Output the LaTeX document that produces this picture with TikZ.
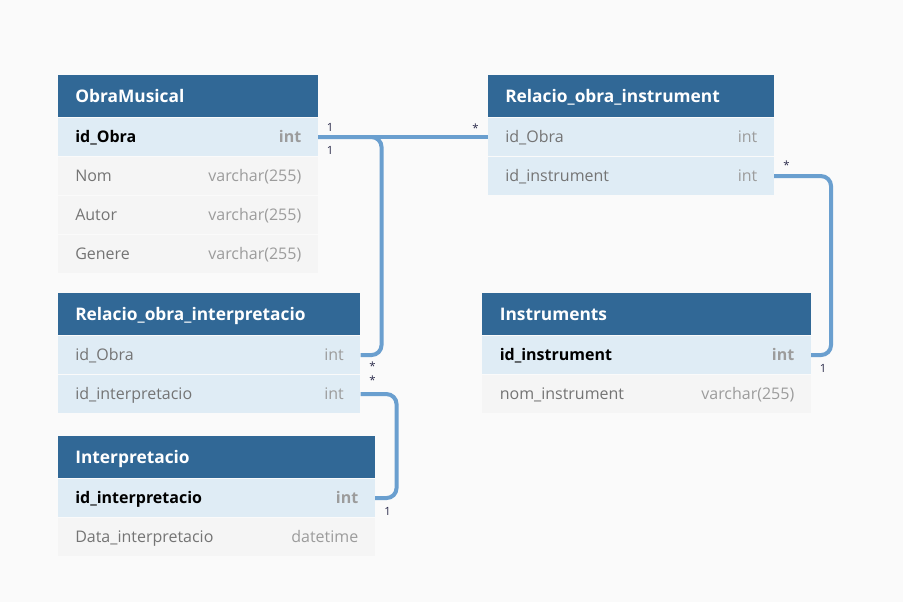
\documentclass[tikz,border=0pt]{standalone}
\usepackage{fontspec}
\setmainfont{Open Sans}
\usetikzlibrary{positioning}
\definecolor{hdrblue}{HTML}{316896}
\definecolor{rowblue}{HTML}{DFECF5}
\definecolor{rowgrey}{HTML}{F5F5F5}
\definecolor{bggrey}{HTML}{FAFAFA}
\definecolor{linkblue}{HTML}{6A9FCF}
\definecolor{txtgrey}{HTML}{747474}
\definecolor{typgrey}{HTML}{9C9C9C}
\definecolor{cardcol}{HTML}{2A2A4A}

\begin{document}
\begin{tikzpicture}[x=0.75pt,y=-0.75pt,
  tblhead/.style={anchor=north west,fill=hdrblue,minimum width=#1*0.75pt,minimum height=42*0.75pt,inner sep=0pt},
  tblrow/.style={minimum width=#1*0.75pt,minimum height=38.5*0.75pt,inner sep=0pt},
  hdrtxt/.style={anchor=base west,shift={(17.5,6.3)},inner sep=0pt,text=white,font=\bfseries\fontsize{13}{15}\selectfont},
  key/.style={fill=rowblue},
  lnk/.style={fill=rowblue},
  fld/.style={fill=rowgrey},
  key-n/.style={anchor=base west,shift={(17.5,5.8)},inner sep=0pt,text=black,font=\bfseries\fontsize{12}{14}\selectfont},
  lnk-n/.style={anchor=base west,shift={(17.5,5.8)},inner sep=0pt,text=txtgrey,font=\fontsize{12}{14}\selectfont},
  fld-n/.style={lnk-n},
  key-t/.style={anchor=base east,shift={(-16.5,5.8)},inner sep=0pt,text=typgrey,font=\bfseries\fontsize{12}{14}\selectfont},
  lnk-t/.style={anchor=base east,shift={(-16.5,5.8)},inner sep=0pt,text=typgrey,font=\fontsize{12}{14}\selectfont},
  fld-t/.style={lnk-t},
  conn/.style={draw=linkblue,line width=3pt,rounded corners=7.5pt},
  card/.style={anchor=base,inner sep=0pt,text=cardcol,font=\fontsize{8.5}{10}\selectfont}]
\useasboundingbox[fill=bggrey] (0,0) rectangle (903,602);

% ObraMusical
\node[tblhead=260,label={[hdrtxt]west:ObraMusical}] (om-0) at (57.5,75) {};
\foreach \n/\t/\s [count=\i,remember=\i as \j (initially 0)] in
  {id\_Obra/int/key,Nom/varchar(255)/fld,Autor/varchar(255)/fld,Genere/varchar(255)/fld}
  \node[tblrow=260,\s,below=0pt of om-\j,label={[\s-n]west:\n},label={[\s-t]east:\t}] (om-\i) {};

% Relacio_obra_instrument
\node[tblhead=286,label={[hdrtxt]west:Relacio\_obra\_instrument}] (roi-0) at (487.5,75) {};
\foreach \n/\t/\s [count=\i,remember=\i as \j (initially 0)] in
  {id\_Obra/int/lnk,id\_instrument/int/lnk}
  \node[tblrow=286,\s,below=0pt of roi-\j,label={[\s-n]west:\n},label={[\s-t]east:\t}] (roi-\i) {};

% Relacio_obra_interpretacio
\node[tblhead=302.5,label={[hdrtxt]west:Relacio\_obra\_interpretacio}] (roint-0) at (57.5,293) {};
\foreach \n/\t/\s [count=\i,remember=\i as \j (initially 0)] in
  {id\_Obra/int/lnk,id\_interpretacio/int/lnk}
  \node[tblrow=302.5,\s,below=0pt of roint-\j,label={[\s-n]west:\n},label={[\s-t]east:\t}] (roint-\i) {};

% Interpretacio
\node[tblhead=317,label={[hdrtxt]west:Interpretacio}] (int-0) at (57.5,436) {};
\foreach \n/\t/\s [count=\i,remember=\i as \j (initially 0)] in
  {id\_interpretacio/int/key,Data\_interpretacio/datetime/fld}
  \node[tblrow=317,\s,below=0pt of int-\j,label={[\s-n]west:\n},label={[\s-t]east:\t}] (int-\i) {};

% Instruments
\node[tblhead=328.5,label={[hdrtxt]west:Instruments}] (ins-0) at (482,293) {};
\foreach \n/\t/\s [count=\i,remember=\i as \j (initially 0)] in
  {id\_instrument/int/key,nom\_instrument/varchar(255)/fld}
  \node[tblrow=328.5,\s,below=0pt of ins-\j,label={[\s-n]west:\n},label={[\s-t]east:\t}] (ins-\i) {};

% links
\draw[conn] (om-1.east) -- (roi-1.west);
\draw[conn] (om-1.east) -| ([shift={(21,0)}]roint-1.east) -- (roint-1.east);
\draw[conn] (roi-2.east) -| ([shift={(20,0)}]ins-1.east) -- (ins-1.east);
\draw[conn] (roint-2.east) -| ([shift={(21.5,0)}]int-1.east) -- (int-1.east);

% cardinalities
\node[card] (c1) at ([shift={(12,-6)}]om-1.east) {1};
\node[card] (c2) at ([shift={(-12,-5)}]roi-1.west) {*};
\node[card] (c3) at ([shift={(12,17)}]om-1.east) {1};
\node[card] (c4) at ([shift={(12,15)}]roint-1.east) {*};
\node[card] (c5) at ([shift={(12.5,-6.5)}]roi-2.east) {*};
\node[card] (c6) at ([shift={(12,17)}]ins-1.east) {1};
\node[card] (c7) at ([shift={(12,-9.5)}]roint-2.east) {*};
\node[card] (c8) at ([shift={(12.5,17)}]int-1.east) {1};
\end{tikzpicture}
\end{document}
